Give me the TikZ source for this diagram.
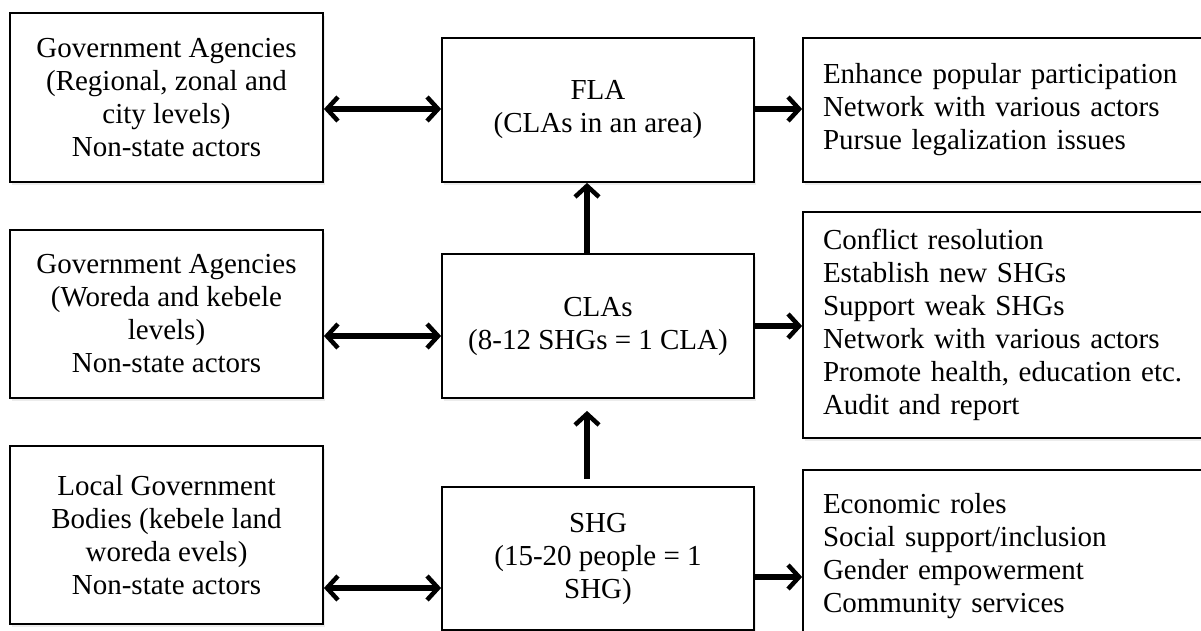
\documentclass[tikz,border=0pt]{standalone}
\usepackage{fontspec}
\setmainfont{Liberation Serif}
\usetikzlibrary{arrows.meta,shadows,calc}
\tikzset{
  box/.style={draw=black, line width=1.8pt, fill=white, inner sep=0pt,
    align=center, font=\fontsize{29pt}{33pt}\selectfont,
    drop shadow={shadow xshift=2pt, shadow yshift=-3pt, opacity=0.15}},
  rbox/.style={box, align=left, text width=372pt, inner xsep=20pt},
  tip/.style={Straight Barb[length=11pt,width=24pt,line width=4.5pt]},
  conn/.style={line width=5.5pt, -{Straight Barb[length=11pt,width=24pt,line width=4.5pt]}},
  dconn/.style={line width=5.5pt, {Straight Barb[length=11pt,width=24pt,line width=4.5pt]}-{Straight Barb[length=11pt,width=24pt,line width=4.5pt]}}
}
\begin{document}
\begin{tikzpicture}[x=1pt,y=-1pt]
\useasboundingbox (0,0) rectangle (1201,631);
\clip (0,0) rectangle (1201,631);
% left column
\node[box, minimum width=313pt, minimum height=169pt] (L1) at (166.5,97.5)
  {Government Agencies\\(Regional, zonal and\\city levels)\\Non-state actors};
\node[box, minimum width=313pt, minimum height=168pt] (L2) at (166.5,314)
  {Government Agencies\\(Woreda and kebele\\levels)\\Non-state actors};
\node[box, minimum width=313pt, minimum height=178pt] (L3) at (166.5,535)
  {Local Government\\Bodies (kebele land\\woreda evels)\\Non-state actors};
% middle column
\node[box, minimum width=312pt, minimum height=144pt] (FLA) at (598,110)
  {FLA\\(CLAs in an area)};
\node[box, minimum width=312pt, minimum height=144pt] (CLA) at (598,326)
  {CLAs\\(8-12 SHGs = 1 CLA)};
\node[box, minimum width=312pt, minimum height=143pt] (SHG) at (598,558.5)
  {SHG\\(15-20 people = 1\\SHG)};
% right column
\node[rbox, minimum height=144pt] (R1) at (1009,110)
  {Enhance popular participation\\Network with various actors\\Pursue legalization issues};
\node[rbox, minimum height=226pt] (R2) at (1009,325)
  {Conflict resolution\\Establish new SHGs\\Support weak SHGs\\Network with various actors\\Promote health, education etc.\\Audit and report};
\node[rbox, minimum height=172pt] (R3) at (1009,556)
  {Economic roles\\Social support/inclusion\\Gender empowerment\\Community services};
% connectors
\coordinate (c1) at ([yshift=1pt]FLA.west);
\coordinate (c2) at ([yshift=-10pt]CLA.west);
\coordinate (c3) at ([yshift=-29.5pt]SHG.west);
\coordinate (c4) at ([yshift=-18.5pt]SHG.east);
\draw[dconn] (c1 -| L1.east) -- (c1);
\draw[dconn] (c2 -| L2.east) -- (c2);
\draw[dconn] (c3 -| L3.east) -- (c3);
\draw[conn] ([yshift=1pt]FLA.east) -- ([yshift=1pt]FLA.east -| R1.west);
\draw[conn] (CLA.east) -- (CLA.east -| R2.west);
\draw[conn] (c4) -- (c4 -| R3.west);
\draw[conn] ([xshift=-11pt]CLA.north) -- ([xshift=-11pt]FLA.south);
\draw[conn] ([xshift=-11pt,yshift=7pt]SHG.north) -- ([xshift=-11pt,yshift=-12pt]CLA.south);
\end{tikzpicture}
\end{document}
